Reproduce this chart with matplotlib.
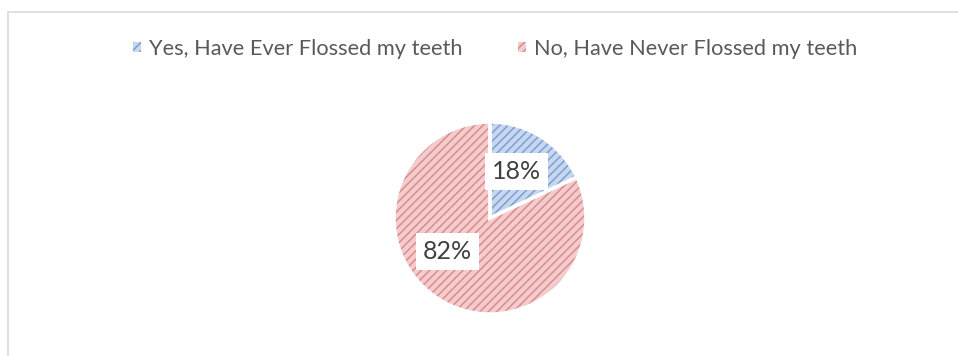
import matplotlib.pyplot as plt
from matplotlib.patches import Rectangle, Patch

plt.rcParams['font.family'] = ['Lato', 'DejaVu Sans']
plt.rcParams['hatch.linewidth'] = 1.1

# survey answers
categories = ["Yes, Have Ever Flossed my teeth", "No, Have Never Flossed my teeth"]
shares = [18, 82]

face_colors = ['#c8d7ee', '#f3cdcd']
hatch_colors = ['#7aa0d6', '#dc8a8a']
text_color = '#595959'

W, H = 958, 356
fig = plt.figure(figsize=(W / 100, H / 100), dpi=100)

# light frame around the chart area
fig.add_artist(Rectangle((8 / W, -0.01), 1.0, (H - 12) / H + 0.01,
                         transform=fig.transFigure, fill=False,
                         edgecolor='#d9d9d9', linewidth=1.2))

# pie axes: centre and radius in pixels
cx, cy, r = 490, H - 218, 96
ax = fig.add_axes([(cx - r) / W, (cy - r) / H, 2 * r / W, 2 * r / H])

wedges, _, autotexts = ax.pie(shares, startangle=90, counterclock=False,
                              colors=face_colors, radius=1,
                              autopct='%1.0f%%', pctdistance=0.55,
                              wedgeprops=dict(linewidth=0))
for w, hc in zip(wedges, hatch_colors):
    w.set_hatch('////')
    w.set_edgecolor(hc)
    w.set_linewidth(0)

# white separators between slices
ax.pie(shares, startangle=90, counterclock=False, radius=1,
       colors=['none', 'none'],
       wedgeprops=dict(linewidth=2.5, edgecolor='white'))

# label boxes (82% sits left of its bisector)
label_pos = [(0.28, 0.48), (-0.44, -0.35)]
for t, pos in zip(autotexts, label_pos):
    t.set_position(pos)
    t.set_fontsize(18)
    t.set_color('#404040')
    t.set_bbox(dict(facecolor='white', edgecolor='none', pad=5))

ax.set_xlim(-1, 1)
ax.set_ylim(-1, 1)
ax.set_aspect('equal')
ax.axis('off')

handles = [Patch(facecolor=fc, edgecolor=hc, hatch='////', linewidth=0)
           for fc, hc in zip(face_colors, hatch_colors)]
fig.legend(handles, categories, loc='center',
           bbox_to_anchor=(495.5 / W, 1 - 49 / H),
           ncol=2, frameon=False, fontsize=15.7, labelcolor=text_color,
           handlelength=0.33, handleheight=0.33, handletextpad=0.4,
           columnspacing=2.55)

fig.savefig('out.png', dpi=100)
